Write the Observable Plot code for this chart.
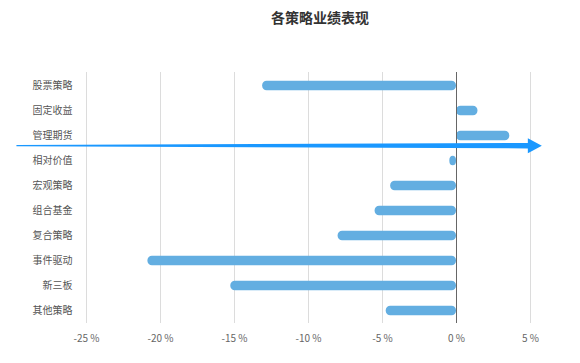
<!DOCTYPE html>
<html>
<head>
<meta charset="utf-8">
<script src="https://cdn.jsdelivr.net/npm/d3@7"></script>
<script src="https://cdn.jsdelivr.net/npm/@observablehq/plot@0.6"></script>
<style>
  html, body { margin: 0; padding: 0; background: #fff; }
  #wrap { position: relative; width: 580px; height: 363px; font-family: "Noto Sans CJK SC", "Noto Sans", sans-serif; }
  #title { position: absolute; left: 220px; width: 200px; top: 7px; text-align: center; font-size: 14px; font-weight: bold; color: #333; line-height: 20px; }
</style>
</head>
<body>
<div id="wrap"><div id="title">各策略业绩表现</div></div>
<script>
const title = "各策略业绩表现";
const categories = ["股票策略", "固定收益", "管理期货", "相对价值", "宏观策略", "组合基金", "复合策略", "事件驱动", "新三板", "其他策略"];
const values = [-13.1, 1.45, 3.6, -0.45, -4.45, -5.5, -8.0, -20.85, -15.25, -4.75];
const xTicks = [-25, -20, -15, -10, -5, 0, 5];
// annotation arrow (data space): from / to x, anchored below this category
const arrowFrom = [-29.7];
const arrowTo = [5.8];
const arrowCategory = ["管理期货"];

const data = categories.map((c, i) => ({category: c, value: values[i]}));

const arrowMark = (index, scales, values, dimensions) => {
  const x = scales.x, y = scales.y;
  const bw = y.bandwidth ? y.bandwidth() : 0;
  const yc = y(arrowCategory[0]) + bw / 2 + 10.2;
  const x0 = x(arrowFrom[0]);
  const x1 = x(arrowTo[0]);
  const hb = x1 - 14;
  const p = d3.path();
  p.moveTo(x0, yc - 0.6);
  p.lineTo(hb, yc - 2.7);
  p.lineTo(hb, yc - 7.5);
  p.lineTo(x1, yc);
  p.lineTo(hb, yc + 7.5);
  p.lineTo(hb, yc + 2.7);
  p.lineTo(x0, yc + 0.6);
  p.closePath();
  const g = d3.create("svg:g");
  g.append("path").attr("d", p.toString()).attr("fill", "#1a98ff");
  return g.node();
};

const chart = Plot.plot({
  width: 580,
  height: 363,
  marginTop: 72,
  marginBottom: 40,
  marginLeft: 86,
  marginRight: 50,
  style: {fontFamily: '"Noto Sans CJK SC", "Noto Sans", sans-serif', fontSize: "10px", color: "#666", background: "#fff"},
  x: {domain: [-25, 5], ticks: xTicks, tickFormat: d => d + " %", label: null},
  y: {domain: categories, padding: 0, label: null},
  marks: [
    Plot.gridX(xTicks, {stroke: "#dcdcdc", strokeOpacity: 1}),
    Plot.axisX({ticks: xTicks, tickFormat: d => d + " %", tickSize: 0, tickPadding: 11, label: null, fill: "#666"}),
    Plot.axisY({tickSize: 0, tickPadding: 14, label: null, fill: "#555"}),
    Plot.barX(data, {x: "value", y: "category", fill: "#63aee1", insetTop: 7.8, insetBottom: 7.8, rx: 4.5}),
    Plot.ruleX([0], {stroke: "#666", strokeWidth: 1}),
    arrowMark
  ]
});
document.getElementById("wrap").appendChild(chart);
</script>
</body>
</html>
